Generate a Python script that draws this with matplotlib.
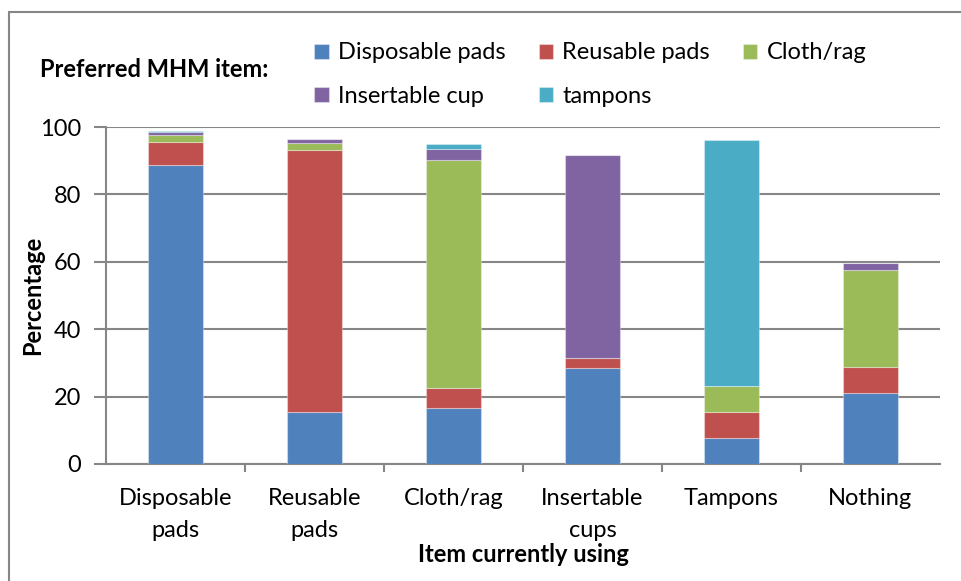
import numpy as np
import matplotlib
matplotlib.use("Agg")
import matplotlib.pyplot as plt
from matplotlib.patches import Rectangle

plt.rcParams['font.family'] = ['Lato', 'DejaVu Sans']

categories = ["Disposable\npads", "Reusable\npads", "Cloth/rag", "Insertable\ncups", "Tampons", "Nothing"]
series_names = ["Disposable pads", "Reusable pads", "Cloth/rag", "Insertable cup", "tampons"]
disposable = [88.7, 15.4, 16.5, 28.6, 7.6, 21.1]
reusable = [6.8, 77.8, 6.1, 2.9, 7.7, 7.6]
cloth = [2.1, 2.1, 67.5, 0.0, 7.8, 28.9]
cup = [1.0, 1.0, 3.4, 60.1, 0.0, 1.9]
tampons = [0.3, 0.2, 1.6, 0.0, 73.0, 0.0]
colors = ["#4F81BD", "#C0504D", "#9BBB59", "#8064A2", "#4BACC6"]

fig = plt.figure(figsize=(9.62, 5.81), dpi=100)
ax = fig.add_axes([106 / 962, 1 - 464 / 581, 834 / 962, 337 / 581])

# outer chart border
fig.patches.append(Rectangle((9 / 962, -0.05), 1.0, 1 - 12 / 581 + 0.05, transform=fig.transFigure,
                             fill=False, edgecolor="#868686", linewidth=1.5))

x = np.arange(len(categories))
bottom = np.zeros(len(categories))
handles = []
for vals, name, c in zip([disposable, reusable, cloth, cup, tampons], series_names, colors):
    b = ax.bar(x, vals, 0.4, bottom=bottom, color=c, edgecolor=(1, 1, 1, 0.35), linewidth=0.8,
               label=name, zorder=3)
    handles.append(b)
    bottom += np.array(vals)

ax.set_xlim(-0.5, len(categories) - 0.5)
ax.set_ylim(0, 100)
ax.set_yticks(range(0, 101, 20))
ax.yaxis.grid(True, color="#868686", linewidth=1.5, zorder=0)
ax.set_axisbelow(True)
for s in ["top", "right"]:
    ax.spines[s].set_visible(False)
for s in ["left", "bottom"]:
    ax.spines[s].set_color("#868686")
    ax.spines[s].set_linewidth(1.5)

ax.set_xticks(x)
ax.set_xticklabels(categories, fontsize=17, linespacing=1.65)
ax.tick_params(axis="x", length=0, pad=17)
ax.set_xticks(np.arange(0.5, len(categories) - 0.5), minor=True)
ax.tick_params(axis="x", which="minor", length=6, width=1.5, color="#868686", direction="out")
ax.tick_params(axis="y", labelsize=17, length=9, width=1.5, color="#868686", pad=9)

ax.set_xlabel("Item currently using", fontsize=17, fontweight="bold", labelpad=2)
ax.set_ylabel("Percentage", fontsize=17, fontweight="bold", va="center")
ax.yaxis.set_label_coords(-0.088, 0.5)

# legend in row order
order = [0, 3, 1, 4, 2]
fig.text(40 / 962, 1 - 70 / 581, "Preferred MHM item:", fontsize=17, fontweight="bold", va="center")
fig.legend([handles[i] for i in order], [series_names[i] for i in order], ncol=3,
           loc="upper left", bbox_to_anchor=(305 / 962, 1 - 33 / 581), frameon=False,
           fontsize=17, handlelength=0.6, handleheight=0.6, handletextpad=0.4,
           columnspacing=1.4, labelspacing=0.95, borderaxespad=0)

fig.savefig("out.png", dpi=100)
